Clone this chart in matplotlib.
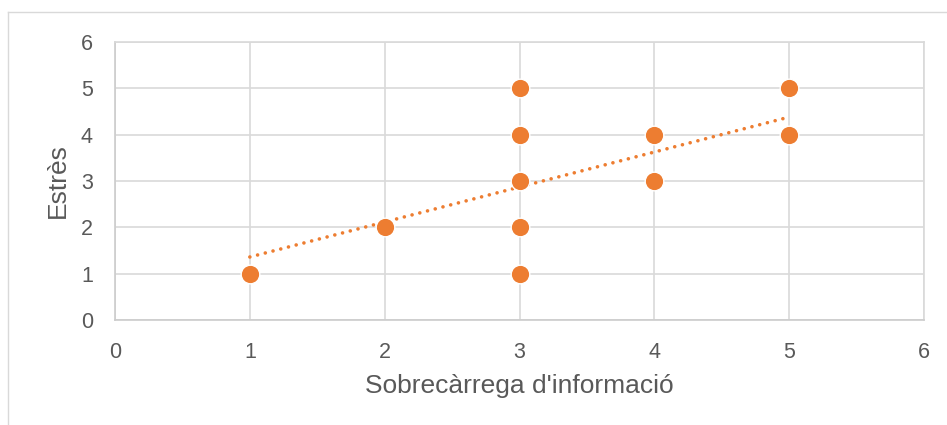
import matplotlib
matplotlib.use("Agg")
import matplotlib.pyplot as plt
from matplotlib.lines import Line2D

plt.rcParams['font.family'] = ['Liberation Sans', 'DejaVu Sans']

# Data
sobrecarrega = [1, 2, 3, 3, 3, 3, 3, 4, 4, 5, 5]
estres = [1, 2, 1, 2, 3, 4, 5, 3, 4, 4, 5]
trend_slope = 0.755
trend_intercept = 0.605
trend_x_range = [1, 5]
ticks = [0, 1, 2, 3, 4, 5, 6]

orange = '#ED7D31'
grid_c = '#D9D9D9'
text_c = '#595959'

fig = plt.figure(figsize=(9.47, 4.25), dpi=100)
W, H = 947, 425
ax = fig.add_axes([115 / W, 1 - 320 / H, (924 - 115) / W, (320 - 42) / H])

# outer chart border (left and top visible)
fig.add_artist(Line2D([8 / W, 8 / W], [0, 1 - 12 / H], color='#D9D9D9', lw=1.0, transform=fig.transFigure))
fig.add_artist(Line2D([8 / W, 1], [1 - 12 / H, 1 - 12 / H], color='#D9D9D9', lw=1.0, transform=fig.transFigure))

ax.set_xlim(0, 6)
ax.set_ylim(0, 6)
ax.set_xticks(ticks)
ax.set_yticks(ticks)
ax.grid(True, color=grid_c, lw=1.2, zorder=0)
ax.set_axisbelow(True)
for s in ax.spines.values():
    s.set_color(grid_c)
    s.set_linewidth(1.2)
ax.spines['left'].set_color('#CCCCCC')
ax.spines['bottom'].set_color('#CCCCCC')
ax.tick_params(length=0, labelsize=15.5, colors=text_c, pad=16)

tx = trend_x_range
ty = [trend_slope * v + trend_intercept for v in tx]
ax.plot(tx, ty, color=orange, lw=2.6, linestyle=(0, (0.01, 2.2)),
        dash_capstyle='round', zorder=3)

ax.scatter(sobrecarrega, estres, s=180, color=orange, edgecolors='white',
           linewidths=1.0, zorder=4)

ax.set_xlabel("Sobrecàrrega d'informació", fontsize=19, color=text_c, labelpad=8)
ax.set_ylabel("Estrès", fontsize=19, color=text_c, labelpad=8)

fig.savefig('out.png', dpi=100)
